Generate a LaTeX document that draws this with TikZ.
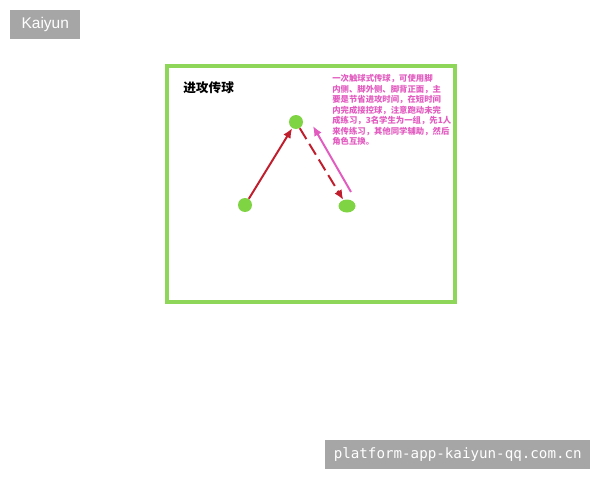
\documentclass[tikz,border=0pt]{standalone}
\usepackage{fontspec}
\setmainfont{Liberation Sans}
\setmonofont{DejaVu Sans Mono}
\newfontfamily\cjk{Noto Sans CJK SC}
\usetikzlibrary{arrows.meta,shapes.geometric}
\definecolor{framegreen}{HTML}{8ED65A}
\definecolor{dotgreen}{HTML}{7FD443}
\definecolor{passred}{HTML}{C01E2C}
\definecolor{runpink}{HTML}{E25CC0}
\definecolor{tagbg}{HTML}{A6A6A6}
\tikzset{
	player/.style={circle, fill=dotgreen, minimum size=14*0.025cm, inner sep=0pt},
	tag/.style={fill=tagbg, text=white, inner sep=0pt, anchor=north west},
	pass/.style={passred, line width=1.4pt, -{Latex[length=7pt,width=6pt]}},
	run/.style={runpink, line width=1.4pt, -{Latex[length=7pt,width=6pt]}}
}
\begin{document}
\begin{tikzpicture}[x=0.025cm, y=-0.025cm]
		\useasboundingbox (0,0) rectangle (600,480);
		
		%corner tags
		\node[tag, minimum width=70*0.025cm, minimum height=29*0.025cm] (kaiyun) at (10,10) {\fontsize{11}{13}\selectfont Kaiyun};
		\node[tag, minimum width=265*0.025cm, minimum height=29*0.025cm] (site) at (325,440) {\ttfamily\fontsize{10.1}{12}\selectfont platform-app-kaiyun-qq.com.cn};
		
		%field
		\draw[framegreen, line width=2.2pt] (167,66) rectangle (455,302);
		\node[anchor=west, inner sep=0pt] (title) at (183,88) {\cjk\fontsize{9}{11}\selectfont\bfseries 进攻传球};
		
		%players
		\node[player] (top) at (296,122) {};
		\node[player] (left) at (245,205) {};
		\node[player, ellipse, minimum width=17*0.025cm, minimum height=13*0.025cm] (right) at (347,206) {};
		
		%passes and run
		\draw[pass] (left) -- (top);
		\draw[pass, dash pattern=on 9pt off 4pt] (top) -- (right);
		\coordinate (runstart) at (351,192);
		\coordinate (runend) at (313,126);
		\draw[run] (runstart) -- (runend);
		
		%notes
		\node[anchor=north west, text=runpink, inner sep=0pt, align=left, font=\cjk\bfseries\fontsize{5.95}{7.5}\selectfont] (notes) at (332,74)
			{一次触球式传球，可使用脚\\内侧、脚外侧、脚背正面，主\\要是节省进攻时间，在短时间\\内完成接控球，注意跑动未完\\成练习，3名学生为一组，先1人\\来传练习，其他同学辅助，然后\\角色互换。};
		
	\end{tikzpicture}
\end{document}
